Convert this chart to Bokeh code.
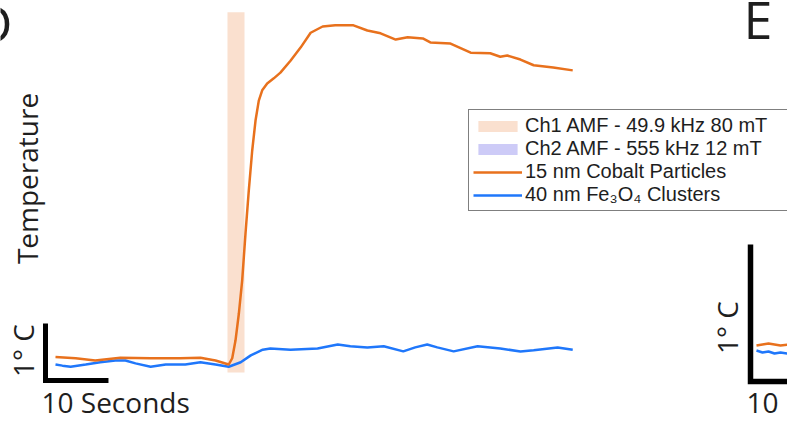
import math

from bokeh.embed import file_html
from bokeh.models import Label, Legend, LegendItem, Range1d
from bokeh.plotting import figure
from bokeh.resources import INLINE

# ---- Panel D: temperature traces (time in s, temperature rise in deg C) ----
cobalt_t = [0.0, 3.2, 6.3, 10.3, 15.1, 19.8, 23.0, 25.4, 27.5, 28.05, 28.57, 29.1,
            29.63, 30.16, 30.68, 31.22, 31.75, 32.27, 32.81, 33.6, 34.65, 35.7,
            37.3, 38.9, 40.5, 42.4, 44.4, 47.3, 49.5, 51.6, 54.0, 55.9, 58.3,
            59.5, 62.7, 65.9, 69.0, 70.6, 71.7, 73.8, 75.9, 79.0, 82.1]
cobalt_temp = [0.13, 0.11, 0.07, 0.12, 0.11, 0.11, 0.12, 0.07, 0.0, 0.11, 0.42, 0.89,
               1.47, 2.30, 3.05, 3.75, 4.28, 4.63, 4.81, 4.93, 5.02, 5.12,
               5.33, 5.56, 5.82, 5.93, 5.95, 5.95, 5.86, 5.81, 5.70, 5.74, 5.72,
               5.65, 5.63, 5.47, 5.46, 5.40, 5.42, 5.35, 5.25, 5.21, 5.16]

fe3o4_t = [0.0, 1.1, 2.4, 4.8, 7.1, 9.5, 11.1, 12.7, 15.1, 17.5, 20.6, 23.0, 25.4,
           27.5, 29.4, 31.0, 32.9, 34.1, 37.3, 41.6, 44.8, 46.8, 49.5, 52.1, 55.2,
           57.1, 59.0, 60.6, 63.2, 67.0, 70.6, 73.8, 75.9, 79.7, 82.1]
fe3o4_temp = [0.0, -0.02, -0.04, 0.0, 0.04, 0.07, 0.07, 0.02, -0.04, 0.0, 0.0, 0.04,
              0.0, -0.04, 0.04, 0.16, 0.26, 0.28, 0.26, 0.28, 0.35, 0.32, 0.30,
              0.32, 0.23, 0.30, 0.35, 0.30, 0.23, 0.32, 0.28, 0.23, 0.25, 0.30, 0.26]

# Ch1 field pulse (s) and its shaded extent (deg C); Ch2 is not applied here
pulse_start = [27.3]
pulse_end = [30.0]
pulse_bottom = [-0.14]
pulse_top = [6.18]
nan = float("nan")
ch2_start, ch2_end, ch2_bottom, ch2_top = [nan], [nan], [nan], [nan]

# Scale bar anchors and sizes
bar_origin_t = -1.59
bar_origin_temp = -0.28
bar_seconds = 10
bar_degrees = 1

# ---- Panel E (partly in view): start of its traces ----
e_t = [0.95, 1.9, 2.86, 3.81, 4.76, 5.95]
e_cobalt = [0.263, 0.27, 0.277, 0.27, 0.263, 0.27]
e_fe3o4 = [0.226, 0.212, 0.219, 0.204, 0.212, 0.204]

ORANGE = "#e8711d"
BLUE = "#1f77fb"
PEACH = "#fae0cf"
LAVENDER = "#cdcbf7"
INK = "#1e1e1e"

W, H = 787, 422
PX_PER_S = 6.3
PX_PER_C_D = 57.0
PX_PER_C_E = 137.0

p = figure(width=W, height=H, output_backend="svg", toolbar_location=None,
           x_range=Range1d(-55 / PX_PER_S, (W - 55) / PX_PER_S),
           y_range=Range1d(-(H - 364) / PX_PER_C_D, 364 / PX_PER_C_D),
           x_axis_location=None, y_axis_location=None,
           min_border=0, min_border_left=0, min_border_right=0,
           min_border_top=0, min_border_bottom=0)
p.grid.visible = False
p.outline_line_color = None
p.background_fill_color = "white"
p.border_fill_color = "white"

p.extra_x_ranges = {"e": Range1d(-750 / PX_PER_S, (W - 750) / PX_PER_S)}
p.extra_y_ranges = {"e": Range1d(-(H - 381) / PX_PER_C_E, 381 / PX_PER_C_E)}

# Field pulse shading, plus the Ch2 renderer that only appears in the legend
pulse = p.quad(left=pulse_start, right=pulse_end, bottom=pulse_bottom, top=pulse_top,
               fill_color=PEACH, line_color=None)
ch2 = p.quad(left=ch2_start, right=ch2_end, bottom=ch2_bottom, top=ch2_top,
             fill_color=LAVENDER, line_color=None)

blue_line = p.line(fe3o4_t, fe3o4_temp, line_color=BLUE, line_width=2.5)
orange_line = p.line(cobalt_t, cobalt_temp, line_color=ORANGE, line_width=2.5)

# Scale bars
p.line([bar_origin_t, bar_origin_t, bar_origin_t + bar_seconds],
       [bar_origin_temp + bar_degrees, bar_origin_temp, bar_origin_temp],
       line_color="black", line_width=5, line_join="miter")
p.line([0, 0, bar_seconds], [bar_degrees, 0, 0], line_color="black", line_width=5.5,
       line_join="miter", x_range_name="e", y_range_name="e")

p.line(e_t, e_fe3o4, line_color=BLUE, line_width=2.5, x_range_name="e", y_range_name="e")
p.line(e_t, e_cobalt, line_color=ORANGE, line_width=2.5, x_range_name="e", y_range_name="e")


def label(text, x, y, size, vertical=False, align="left", font="Open Sans"):
    """Place a text with its baseline at (x, y) in pixels from the top-left."""
    drop = 0.38 * size  # distance the renderer puts the baseline below the anchor
    if vertical:
        sx, sy, angle = x - drop, H - y, math.pi / 2
    else:
        sx, sy, angle = x, H - y + drop, 0.0
    p.add_layout(Label(x=sx, y=sy, x_units="screen", y_units="screen", text=text,
                       angle=angle, text_align=align, text_baseline="alphabetic",
                       text_font=font, text_font_size=f"{size}px", text_color=INK))


label("D", 12, 42, 52, align="right")
label("E", 743, 38, 52)
label("Temperature", 37, 178, 28, vertical=True, align="center")
label("1° C", 33, 350, 28, vertical=True, align="center")
label("10 Seconds", 41, 412, 28)
label("1° C", 737, 327, 28, vertical=True, align="center")
label("10", 746, 413, 28)

legend = Legend(items=[
    LegendItem(label="Ch1 AMF - 49.9 kHz 80 mT", renderers=[pulse]),
    LegendItem(label="Ch2 AMF - 555 kHz 12 mT", renderers=[ch2]),
    LegendItem(label="15 nm Cobalt Particles", renderers=[orange_line]),
    LegendItem(label="40 nm Fe\u2083O\u2084 Clusters", renderers=[blue_line]),
], location=(468, H - 211))
legend.label_text_font = "Liberation Sans"
legend.label_text_font_size = "20px"
legend.label_text_color = INK
legend.label_standoff = 3
legend.label_height = 20
legend.label_width = 268
legend.glyph_width = 49
legend.glyph_height = 14
legend.spacing = 0
legend.padding = 4
legend.margin = 0
legend.border_line_color = "black"
legend.border_line_width = 1
legend.background_fill_color = "white"
legend.background_fill_alpha = 1.0
p.add_layout(legend)

open("out.html", "w").write(file_html(p, INLINE))
